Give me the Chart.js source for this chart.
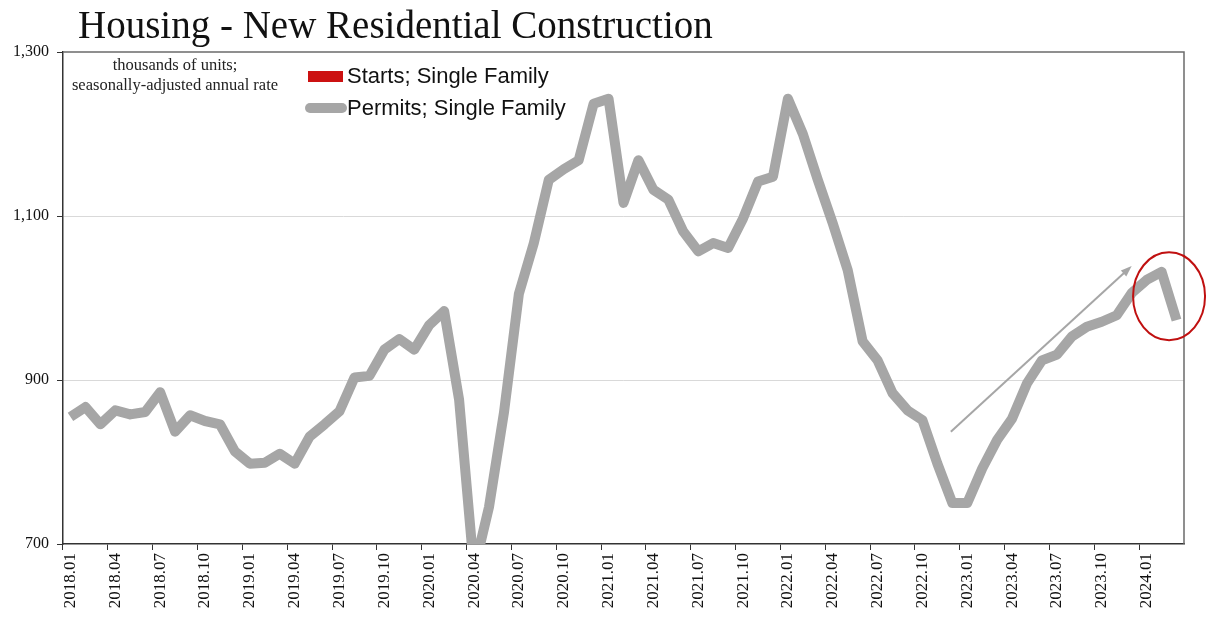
<!DOCTYPE html>
<html>
<head>
<meta charset="utf-8">
<script src="https://cdn.jsdelivr.net/npm/chart.js@4.4.1/dist/chart.umd.min.js"></script>
<style>
  html, body { margin: 0; padding: 0; background: #fff; }
  #wrap { width: 1216px; height: 622px; }
</style>
</head>
<body>
<div id="wrap"><canvas id="myChart" width="1216" height="622"></canvas></div>
<script>
// values: thousands of units, seasonally-adjusted annual rate

var titleText = 'Housing - New Residential Construction';
var noteLines = ['thousands of units;', 'seasonally-adjusted annual rate'];

var months = [
    '2018.01','2018.02','2018.03','2018.04','2018.05','2018.06','2018.07','2018.08','2018.09','2018.10','2018.11','2018.12',
    '2019.01','2019.02','2019.03','2019.04','2019.05','2019.06','2019.07','2019.08','2019.09','2019.10','2019.11','2019.12',
    '2020.01','2020.02','2020.03','2020.04','2020.05','2020.06','2020.07','2020.08','2020.09','2020.10','2020.11','2020.12',
    '2021.01','2021.02','2021.03','2021.04','2021.05','2021.06','2021.07','2021.08','2021.09','2021.10','2021.11','2021.12',
    '2022.01','2022.02','2022.03','2022.04','2022.05','2022.06','2022.07','2022.08','2022.09','2022.10','2022.11','2022.12',
    '2023.01','2023.02','2023.03','2023.04','2023.05','2023.06','2023.07','2023.08','2023.09','2023.10','2023.11','2023.12',
    '2024.01','2024.02','2024.03'
];

// only every third month gets a label and a tick mark
var shownTicks = [
    '2018.01','2018.04','2018.07','2018.10','2019.01','2019.04','2019.07','2019.10',
    '2020.01','2020.04','2020.07','2020.10','2021.01','2021.04','2021.07','2021.10',
    '2022.01','2022.04','2022.07','2022.10','2023.01','2023.04','2023.07','2023.10','2024.01'
];

var permitsSF = [
    855, 867, 846, 863, 858, 861, 885, 837, 857, 850, 846, 813,
    798, 799, 810, 798, 831, 846, 862, 903, 905, 937, 950, 937,
    967, 984, 876, 668, 745, 860, 1005, 1067, 1144, 1157, 1168, 1237,
    1243, 1116, 1168, 1132, 1120, 1081, 1057, 1067, 1061, 1097, 1142, 1148,
    1243, 1200, 1144, 1091, 1034, 947, 924, 884, 863, 851, 798, 750,
    750, 792, 827, 853, 896, 924, 931, 953, 965, 971, 979, 1006,
    1022, 1032, 973
];
var startsSF = []; // in the legend only, not drawn in the picture

var yTicks = [700, 900, 1100, 1300];

// annotations, in data space: [month index, value]
var arrowFrom = [58.9, 837];
var arrowTo = [71.0, 1039];
var circleAt = [73.5, 1002];

var serif = '"Liberation Serif", "Times New Roman", serif';
var sans = '"Liberation Sans", Arial, sans-serif';

var decor = {
    id: 'decor',
    beforeDraw: function(chart) {
        var ctx = chart.ctx;
        ctx.save();
        ctx.fillStyle = '#fff';
        ctx.fillRect(0, 0, chart.width, chart.height);
        ctx.restore();
    },
    afterDraw: function(chart) {
        var ctx = chart.ctx;
        var a = chart.chartArea;
        var xs = chart.scales.x, ys = chart.scales.y;
        ctx.save();

        // top and right edge of the plot box
        ctx.strokeStyle = '#6b6b6b';
        ctx.lineWidth = 1.5;
        ctx.beginPath();
        ctx.moveTo(a.left, a.top);
        ctx.lineTo(a.right, a.top);
        ctx.lineTo(a.right, a.bottom);
        ctx.stroke();

        // title
        ctx.fillStyle = '#111';
        ctx.font = '39px ' + serif;
        ctx.textAlign = 'left';
        ctx.textBaseline = 'alphabetic';
        ctx.fillText(titleText, 78, 38);

        // units note
        ctx.font = '16.5px ' + serif;
        ctx.textAlign = 'center';
        ctx.textBaseline = 'middle';
        ctx.fillStyle = '#222';
        ctx.fillText(noteLines[0], 175, 66);
        ctx.fillText(noteLines[1], 175, 86);

        // legend
        var ds = chart.data.datasets;
        ctx.fillStyle = ds[0].borderColor;
        ctx.fillRect(308, 71, 35, 11);
        ctx.strokeStyle = ds[1].borderColor;
        ctx.lineWidth = 10;
        ctx.lineCap = 'round';
        ctx.beginPath();
        ctx.moveTo(310, 108);
        ctx.lineTo(342, 108);
        ctx.stroke();
        ctx.font = '22px ' + sans;
        ctx.textAlign = 'left';
        ctx.fillStyle = '#111';
        ctx.fillText(ds[0].label, 347, 77);
        ctx.fillText(ds[1].label, 347, 109);

        // trend arrow
        var x1 = xs.getPixelForValue(arrowFrom[0]), y1 = ys.getPixelForValue(arrowFrom[1]);
        var x2 = xs.getPixelForValue(arrowTo[0]), y2 = ys.getPixelForValue(arrowTo[1]);
        var ang = Math.atan2(y2 - y1, x2 - x1);
        ctx.strokeStyle = '#a6a6a6';
        ctx.fillStyle = '#a6a6a6';
        ctx.lineWidth = 2;
        ctx.lineCap = 'butt';
        ctx.beginPath();
        ctx.moveTo(x1, y1);
        ctx.lineTo(x2 - 6 * Math.cos(ang), y2 - 6 * Math.sin(ang));
        ctx.stroke();
        ctx.beginPath();
        ctx.moveTo(x2, y2);
        ctx.lineTo(x2 - 11 * Math.cos(ang) + 4 * Math.sin(ang), y2 - 11 * Math.sin(ang) - 4 * Math.cos(ang));
        ctx.lineTo(x2 - 11 * Math.cos(ang) - 4 * Math.sin(ang), y2 - 11 * Math.sin(ang) + 4 * Math.cos(ang));
        ctx.closePath();
        ctx.fill();

        // red ring round the last drop
        ctx.strokeStyle = '#c01010';
        ctx.lineWidth = 2;
        ctx.beginPath();
        ctx.ellipse(xs.getPixelForValue(circleAt[0]), ys.getPixelForValue(circleAt[1]), 36, 44, 0, 0, Math.PI * 2);
        ctx.stroke();

        ctx.restore();
    }
};

function buildChart()
{
    var ctxL = document.getElementById('myChart').getContext('2d');
    var myLineChart = new Chart(ctxL, {
        type: 'line',
        data: {
            labels: months,
            datasets: [
                {
                    label: 'Starts; Single Family',
                    data: startsSF,
                    borderColor: '#cc1111',
                    backgroundColor: '#cc1111'
                },
                {
                    label: 'Permits; Single Family',
                    data: permitsSF,
                    borderColor: '#a6a6a6',
                    borderWidth: 10,
                    borderJoinStyle: 'round',
                    pointRadius: 0,
                    tension: 0,
                    clip: 0
                }
            ]
        },
        options: {
            responsive: false,
            animation: false,
            events: [],
            layout: { padding: { left: 8, top: 52, right: 32, bottom: 0 } },
            plugins: {
                legend: { display: false },
                title: { display: false },
                tooltip: { enabled: false }
            },
            scales: {
                x: {
                    offset: true,
                    afterFit: function(scale) { scale.height = 78; },
                    border: { display: true, color: '#333', width: 1.5 },
                    grid: {
                        offset: true,
                        drawOnChartArea: false,
                        drawTicks: true,
                        tickLength: 6,
                        tickColor: function(c) {
                            return shownTicks.indexOf(months[c.index]) >= 0 ? '#333' : 'rgba(0,0,0,0)';
                        }
                    },
                    ticks: {
                        autoSkip: false,
                        minRotation: 90,
                        maxRotation: 90,
                        padding: 3,
                        color: '#111',
                        font: { family: serif, size: 17 },
                        callback: function(val, i) {
                            return shownTicks.indexOf(months[i]) >= 0 ? months[i] : '';
                        }
                    }
                },
                y: {
                    min: yTicks[0],
                    max: yTicks[yTicks.length - 1],
                    afterFit: function(scale) { scale.width = 55; },
                    afterBuildTicks: function(scale) {
                        scale.ticks = yTicks.map(function(v) { return { value: v }; });
                    },
                    border: { display: true, color: '#333', width: 1.5 },
                    grid: {
                        color: function(c) {
                            var v = c.tick ? c.tick.value : 0;
                            return (v > yTicks[0] && v < yTicks[yTicks.length - 1]) ? '#d9d9d9' : 'rgba(0,0,0,0)';
                        },
                        lineWidth: 1,
                        tickLength: 6,
                        tickColor: '#333'
                    },
                    ticks: {
                        padding: 8,
                        color: '#111',
                        font: { family: serif, size: 16 },
                        callback: function(v) { return v.toLocaleString('en-US'); }
                    }
                }
            }
        },
        plugins: [decor]
    });
}

buildChart();
</script>
</body>
</html>
